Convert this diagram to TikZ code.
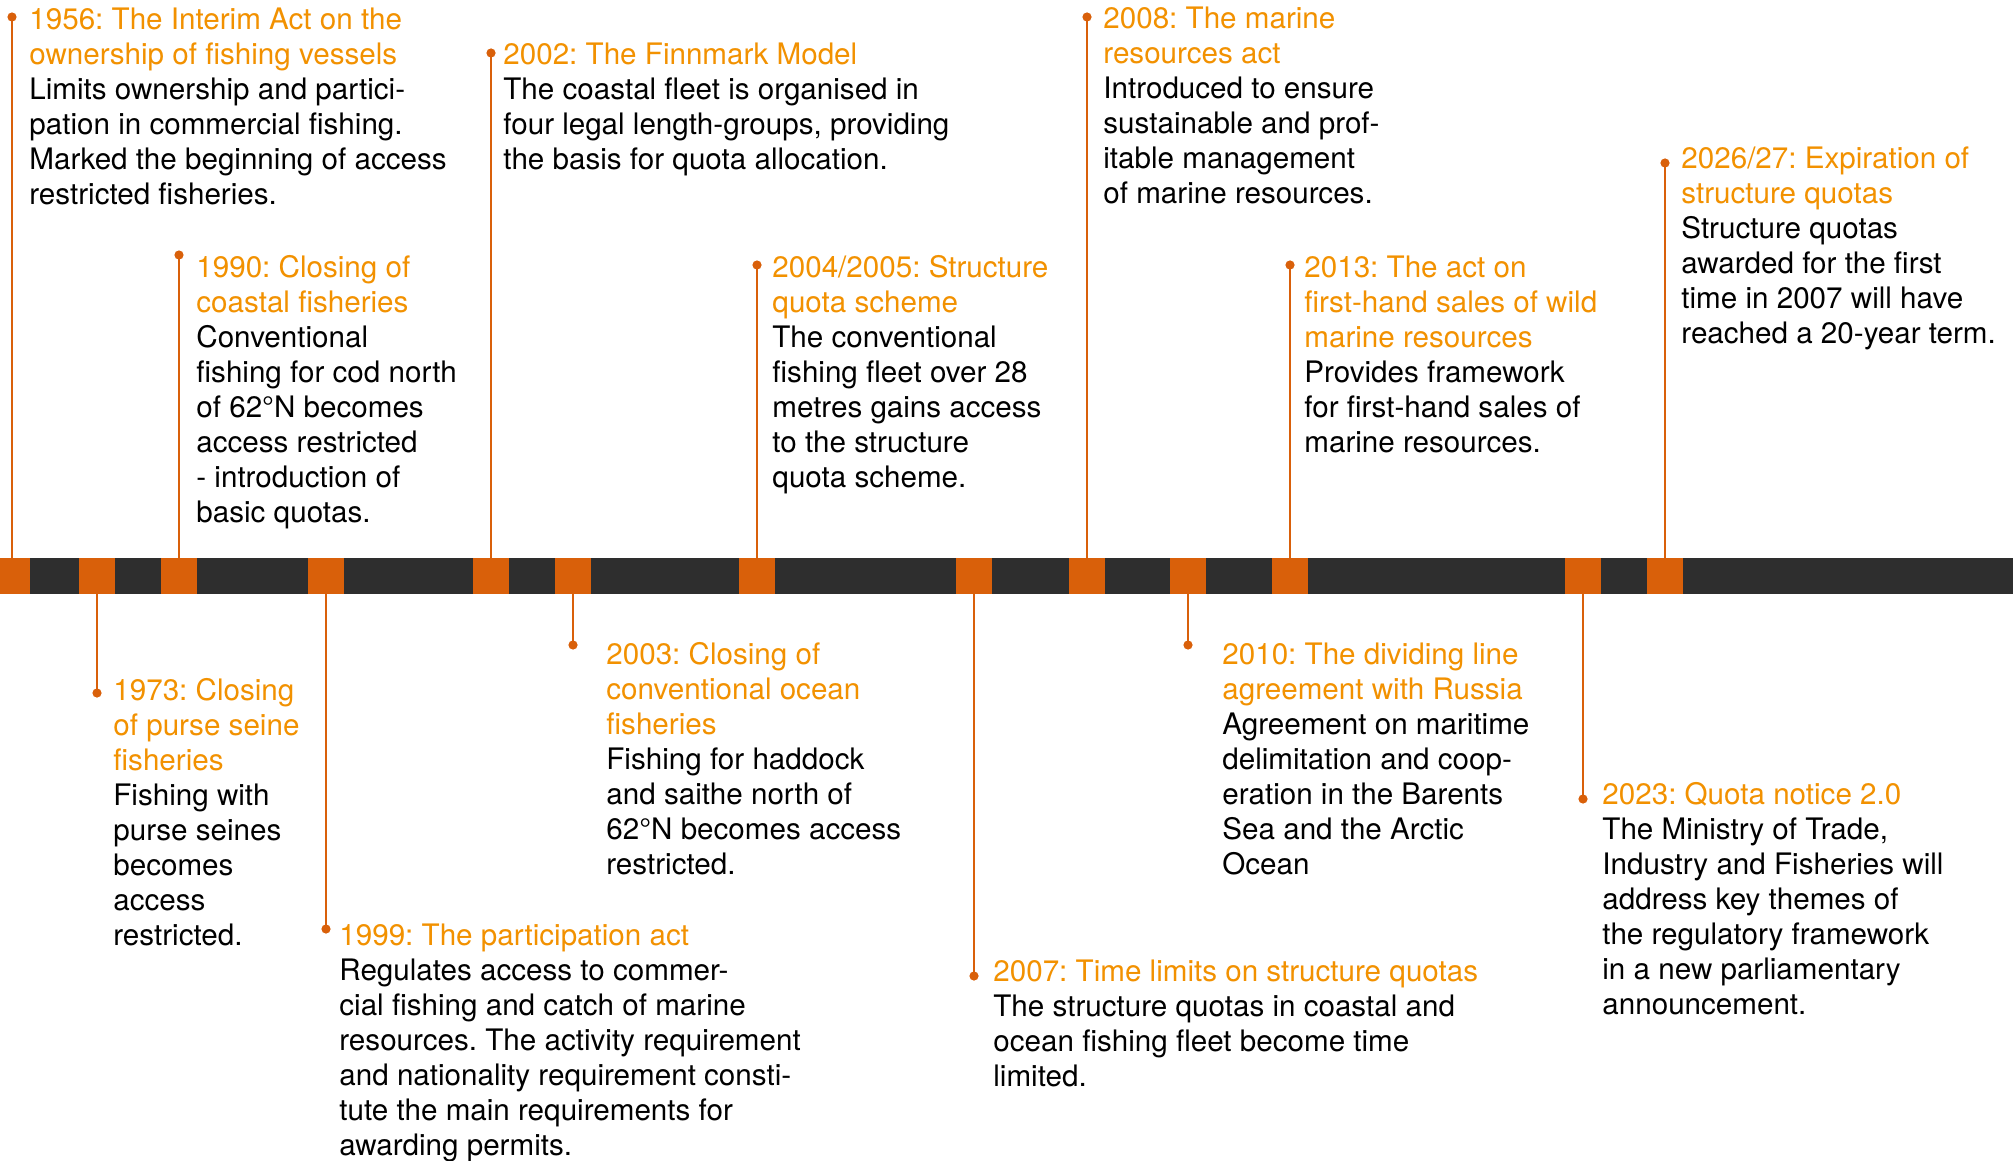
\documentclass[tikz,border=0pt]{standalone}
\usepackage{fontspec}
\setmainfont{TeX Gyre Heros}
\definecolor{barc}{HTML}{2E2E2E}
\definecolor{acc}{HTML}{D9600A}
\definecolor{hdc}{HTML}{F29100}
\newcommand\hd[1]{\textcolor{hdc}{#1}}
\frenchspacing
\begin{document}
\begin{tikzpicture}[x=0.5pt,y=-0.5pt,
  tickbox/.style={fill=acc, draw=none, minimum width=18pt, minimum height=18pt, inner sep=0pt},
  dotnode/.style={circle, fill=acc, draw=none, minimum size=4.6pt, inner sep=0pt},
  stem/.style={draw=acc, line width=1.2pt},
  evtext/.style={anchor=north west, inner sep=0pt, align=left, font=\fontsize{14.8}{17.5}\selectfont\frenchspacing, text=black}]
\useasboundingbox (0,0) rectangle (2013,1161);
\fill[white] (0,0) rectangle (2013,1161);
\fill[barc] (0,558) rectangle (2013,594);

% ticks on the bar
\node[tickbox] (s1) at (12,576) {};
\node[tickbox] (s2) at (97,576) {};
\node[tickbox] (s3) at (179,576) {};
\node[tickbox] (s4) at (326,576) {};
\node[tickbox] (s5) at (491,576) {};
\node[tickbox] (s6) at (573,576) {};
\node[tickbox] (s7) at (757,576) {};
\node[tickbox] (s8) at (974,576) {};
\node[tickbox] (s9) at (1087,576) {};
\node[tickbox] (s10) at (1188,576) {};
\node[tickbox] (s11) at (1290,576) {};
\node[tickbox] (s12) at (1583,576) {};
\node[tickbox] (s13) at (1665,576) {};

% dots
\node[dotnode] (d1) at (12,17) {};
\node[dotnode] (d2) at (97,693) {};
\node[dotnode] (d3) at (179,255) {};
\node[dotnode] (d4) at (326,929) {};
\node[dotnode] (d5) at (491,53) {};
\node[dotnode] (d6) at (573,645) {};
\node[dotnode] (d7) at (757,265) {};
\node[dotnode] (d8) at (974,976) {};
\node[dotnode] (d9) at (1087,17) {};
\node[dotnode] (d10) at (1188,645) {};
\node[dotnode] (d11) at (1290,265) {};
\node[dotnode] (d12) at (1583,799) {};
\node[dotnode] (d13) at (1665,163) {};

% stems
\draw[stem] (d1.center) -- (s1.north);
\draw[stem] (d2.center) -- (s2.south);
\draw[stem] (d3.center) -- (s3.north);
\draw[stem] (d4.center) -- (s4.south);
\draw[stem] (d5.center) -- (s5.north);
\draw[stem] (d6.center) -- (s6.south);
\draw[stem] (d7.center) -- (s7.north);
\draw[stem] (d8.center) -- (s8.south);
\draw[stem] (d9.center) -- (s9.north);
\draw[stem] (d10.center) -- (s10.south);
\draw[stem] (d11.center) -- (s11.north);
\draw[stem] (d12.center) -- (s12.south);
\draw[stem] (d13.center) -- (s13.north);

% texts (node top = first baseline - 24.5)
\node[evtext] (t1) at (29,4.5) {\strut\hd{1956: The Interim Act on the}\\\hd{ownership of fishing vessels}\\Limits ownership and partici-\\pation in commercial fishing.\\Marked the beginning of access\\restricted fisheries.};
\node[evtext] (t2) at (113,675.5) {\strut\hd{1973: Closing}\\\hd{of purse seine}\\\hd{fisheries}\\Fishing with\\purse seines\\becomes\\access\\restricted.};
\node[evtext] (t3) at (196,252.5) {\strut\hd{1990: Closing of}\\\hd{coastal fisheries}\\Conventional\\fishing for cod north\\of 62°N becomes\\access restricted\\- introduction of\\basic quotas.};
\node[evtext] (t4) at (339,920.5) {\strut\hd{1999: The participation act}\\Regulates access to commer-\\cial fishing and catch of marine\\resources. The activity requirement\\and nationality requirement consti-\\tute the main requirements for\\awarding permits.};
\node[evtext] (t5) at (503,39.5) {\strut\hd{2002: The Finnmark Model}\\The coastal fleet is organised in\\four legal length-groups, providing\\the basis for quota allocation.};
\node[evtext] (t6) at (606,639.5) {\strut\hd{2003: Closing of}\\\hd{conventional ocean}\\\hd{fisheries}\\Fishing for haddock\\and saithe north of\\62°N becomes access\\restricted.};
\node[evtext] (t7) at (772,252.5) {\strut\hd{2004/2005: Structure}\\\hd{quota scheme}\\The conventional\\fishing fleet over 28\\metres gains access\\to the structure\\quota scheme.};
\node[evtext] (t8) at (993,956.5) {\strut\hd{2007: Time limits on structure quotas}\\The structure quotas in coastal and\\ocean fishing fleet become time\\limited.};
\node[evtext] (t9) at (1103,3.5) {\strut\hd{2008: The marine}\\\hd{resources act}\\Introduced to ensure\\sustainable and prof-\\itable management\\of marine resources.};
\node[evtext] (t10) at (1222,639.5) {\strut\hd{2010: The dividing line}\\\hd{agreement with Russia}\\Agreement on maritime\\delimitation and coop-\\eration in the Barents\\Sea and the Arctic\\Ocean};
\node[evtext] (t11) at (1304,252.5) {\strut\hd{2013: The act on}\\\hd{first-hand sales of wild}\\\hd{marine resources}\\Provides framework\\for first-hand sales of\\marine resources.};
\node[evtext] (t12) at (1602,779.5) {\strut\hd{2023: Quota notice 2.0}\\The Ministry of Trade,\\Industry and Fisheries will\\address key themes of\\the regulatory framework\\in a new parliamentary\\announcement.};
\node[evtext] (t13) at (1681,143.5) {\strut\hd{2026/27: Expiration of}\\\hd{structure quotas}\\Structure quotas\\awarded for the first\\time in 2007 will have\\reached a 20-year term.};
\end{tikzpicture}
\end{document}
